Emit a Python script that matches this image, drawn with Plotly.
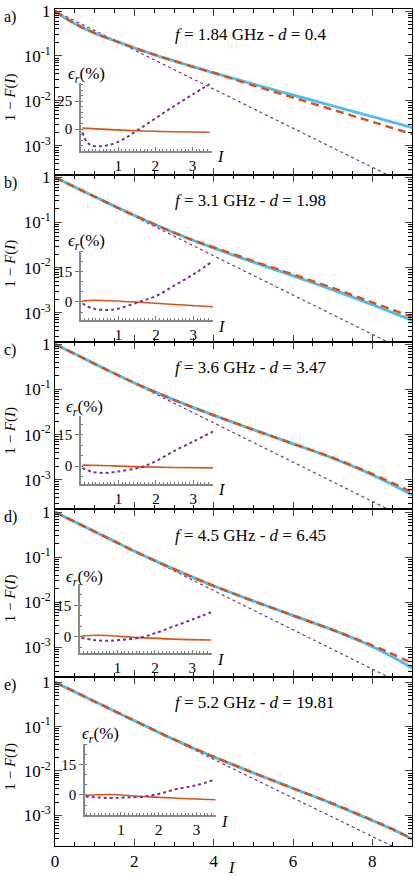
import plotly.graph_objects as go

# panel texts
panel_tags = ["a)", "b)", "c)", "d)", "e)"]
freqs = ["1.84", "3.1", "3.6", "4.5", "5.2"]
dvals = ["0.4", "1.98", "3.47", "6.45", "19.81"]

I_a = [0, 0.25, 0.5, 0.75, 1, 1.5, 2, 2.5, 3, 3.5, 4, 5, 6, 7, 8, 9]
meas_a = [1, 0.708, 0.525, 0.407, 0.324, 0.219, 0.151, 0.107, 0.0776, 0.0569, 0.0422, 0.0237, 0.0135, 0.00776, 0.00447, 0.00257]
model_a = [1, 0.708, 0.525, 0.407, 0.324, 0.219, 0.151, 0.107, 0.0776, 0.0569, 0.0422, 0.0221, 0.0119, 0.00638, 0.00343, 0.00184]

I_b = [0, 0.5, 1, 1.5, 2, 2.5, 3, 3.5, 4, 5, 6, 7, 8, 9]
meas_b = [1, 0.607, 0.3715, 0.229, 0.1429, 0.0912, 0.0596, 0.0398, 0.0272, 0.0132, 0.00661, 0.00324, 0.00151, 0.000676]
model_b = [1, 0.607, 0.3715, 0.229, 0.1429, 0.0912, 0.0596, 0.0398, 0.0282, 0.01396, 0.00708, 0.00355, 0.0017, 0.000813]

I_c = [0, 0.5, 1, 1.5, 2, 2.5, 3, 3.5, 4, 5, 6, 7, 8, 9]
meas_c = [1, 0.607, 0.368, 0.2249, 0.1396, 0.0891, 0.0589, 0.0394, 0.0269, 0.0129, 0.00631, 0.00302, 0.00129, 0.000468]
model_c = [1, 0.607, 0.368, 0.2249, 0.1396, 0.0891, 0.0589, 0.0394, 0.0269, 0.0129, 0.00631, 0.00309, 0.00135, 0.000537]

I_d = [0, 0.5, 1, 1.5, 2, 2.5, 3, 3.5, 4, 5, 6, 7, 8, 8.5, 9]
meas_d = [1, 0.607, 0.368, 0.2239, 0.1365, 0.0851, 0.0543, 0.0351, 0.0232, 0.01072, 0.00513, 0.00245, 0.00105, 0.000631, 0.000355]
model_d = [1, 0.607, 0.368, 0.2239, 0.1365, 0.0851, 0.0543, 0.0351, 0.0232, 0.01072, 0.00513, 0.00245, 0.00112, 0.000724, 0.000457]

I_e = [0, 0.5, 1, 1.5, 2, 2.5, 3, 3.5, 4, 5, 6, 7, 8, 8.5, 9]
meas_e = [1, 0.607, 0.368, 0.2239, 0.1361, 0.0832, 0.0513, 0.0324, 0.0209, 0.00912, 0.00407, 0.00182, 0.000759, 0.00049, 0.000295]
model_e = [1, 0.607, 0.368, 0.2239, 0.1361, 0.0832, 0.0513, 0.0324, 0.0209, 0.00912, 0.00407, 0.00185, 0.00078, 0.000495, 0.000295]

# exponential reference (purple dotted)
I_exp = [0, 4, 9]
exp_ref = [1, 0.0183, 0.000123]

# insets: relative error in %, exponential (purple dashed) and model (red)
ins_I_exp_a = [0.04, 0.16, 0.29, 0.5, 0.81, 1.16, 1.5, 2.0, 2.5, 3.0, 3.46]
ins_exp_a = [-3, -11.7, -14.7, -15.5, -13.8, -8.8, -1.5, 9.5, 20.5, 31, 40.5]
ins_I_mod_a = [0.04, 0.8, 1.5, 2.5, 3.46]
ins_mod_a = [0.9, -0.5, -1.5, -2.4, -2.9]

ins_I_exp_b = [0.04, 0.3, 0.67, 1.0, 1.55, 2.0, 2.53, 3.05, 3.53]
ins_exp_b = [-0.8, -3.2, -4.0, -3.3, 0, 2.9, 8.5, 14.2, 20.3]
ins_I_mod_b = [0.04, 0.4, 1.55, 2.5, 3.53]
ins_mod_b = [0.5, 0.8, -0.2, -1.3, -2.4]

ins_I_exp_c = [0.04, 0.3, 0.63, 1.0, 1.6, 2.0, 2.47, 3.0, 3.53]
ins_exp_c = [-0.8, -2.7, -3.2, -2.5, -0.5, 2.4, 7.1, 11.8, 16.6]
ins_I_mod_c = [0.04, 0.8, 1.6, 2.5, 3.53]
ins_mod_c = [0.5, 0.2, -0.3, -0.6, -0.8]

ins_I_exp_d = [0.04, 0.35, 0.72, 1.1, 1.6, 2.0, 2.5, 3.0, 3.5]
ins_exp_d = [-0.5, -1.6, -2.0, -1.6, -0.5, 1.6, 4.9, 8.2, 11.7]
ins_I_mod_d = [0.04, 0.5, 1.6, 2.5, 3.5]
ins_mod_d = [0.3, 0.65, -0.5, -1.2, -1.6]

ins_I_exp_e = [0.07, 0.7, 1.1, 1.6, 2.0, 2.47, 3.0, 3.44]
ins_exp_e = [-0.8, -1.5, -1.3, -0.8, 0.5, 2.9, 4.8, 7.3]
ins_I_mod_e = [0.07, 0.7, 1.6, 2.5, 3.5]
ins_mod_e = [-0.3, 0.2, -0.8, -1.6, -2.4]

meas = [(I_a, meas_a, model_a), (I_b, meas_b, model_b), (I_c, meas_c, model_c),
        (I_d, meas_d, model_d), (I_e, meas_e, model_e)]
insets = [(ins_I_exp_a, ins_exp_a, ins_I_mod_a, ins_mod_a),
          (ins_I_exp_b, ins_exp_b, ins_I_mod_b, ins_mod_b),
          (ins_I_exp_c, ins_exp_c, ins_I_mod_c, ins_mod_c),
          (ins_I_exp_d, ins_exp_d, ins_I_mod_d, ins_mod_d),
          (ins_I_exp_e, ins_exp_e, ins_I_mod_e, ins_mod_e)]

# layout geometry (pixels of a 415x876 page)
W, H = 415, 876
L, R, T, B = 55, 2, 2, 30
pw, ph = W - L - R, H - T - B
panel_px = [(2, 169.5), (169.5, 337.5), (337.5, 506.5), (506.5, 675.5), (675.5, 846)]
yranges = [[-3.65, 0.045], [-3.64, 0.048], [-3.65, 0.055], [-3.65, 0.06], [-3.69, 0.12]]
inset_px = [(81, 212.3, 77, 145), (81, 213.3, 246.3, 315.7), (81, 213.3, 412.3, 481),
            (80, 212.3, 582.3, 651.7), (85, 216.7, 743.3, 815)]
inset_yr = [[-19.5, 41], [-9, 25], [-8.5, 24], [-8, 25], [-10, 25]]
inset_xr = [[0, 3.52], [0, 3.52], [0, 3.52], [0, 3.52], [0.05, 3.52]]
inset_ytick = [[0, 25], [0, 15], [0, 15], [0, 15], [0, 15]]
elab_px = [(66, 69), (66, 237), (64, 404), (64, 576), (80, 734)]


def px_x(p):
    return (p - L) / pw


def px_y(p):
    return (H - B - p) / ph


BLUE = "#4DBEEE"
RED = "#D95319"
PURPLE = "#7E2F8E"
FONT = "Liberation Serif"

minor_log = [k * 10 ** d for d in range(-4, 1) for k in range(2, 10)]

fig = go.Figure()

for i in range(5):
    n = i + 1
    xa, ya = "x%d" % n, "y%d" % n
    I, mv, md = meas[i]
    fig.add_trace(go.Scatter(x=I_exp, y=exp_ref, mode="lines", xaxis=xa, yaxis=ya,
                             line=dict(color=PURPLE, width=1.2, dash="dot"), showlegend=False))
    fig.add_trace(go.Scatter(x=I, y=mv, mode="lines", xaxis=xa, yaxis=ya, line_shape="spline",
                             line=dict(color=BLUE, width=3), showlegend=False))
    fig.add_trace(go.Scatter(x=I, y=md, mode="lines", xaxis=xa, yaxis=ya, line_shape="spline",
                             line=dict(color=RED, width=2.5, dash="8px,5px"), showlegend=False))

    top, bot = panel_px[i]
    fig.layout["xaxis%d" % n] = dict(
        domain=[0, 1], anchor=ya, range=[0, 9], dtick=2, tick0=0,
        ticks="inside", ticklen=7, mirror="ticks", showline=True, linecolor="black",
        linewidth=1, showgrid=False, zeroline=False, showticklabels=(i == 4),
        tickfont=dict(size=17, family=FONT, color="black"),
        minor=dict(dtick=0.5, ticks="inside", ticklen=4, tickcolor="black", showgrid=False))
    fig.layout["yaxis%d" % n] = dict(
        domain=[px_y(bot), px_y(top)], anchor=xa, type="log", range=yranges[i],
        tickvals=[1, 0.1, 0.01, 0.001],
        ticktext=["1", "10<sup>-1</sup>", "10<sup>-2</sup>", "10<sup>-3</sup>"],
        ticks="inside", ticklen=7, mirror="ticks", showline=True, linecolor="black",
        linewidth=1, showgrid=False, zeroline=False,
        tickfont=dict(size=17, family=FONT, color="black"),
        minor=dict(tickvals=minor_log, ticks="inside", ticklen=4, tickcolor="black", showgrid=False))

    # inset
    m = i + 6
    ixa, iya = "x%d" % m, "y%d" % m
    ie_x, ie_y, im_x, im_y = insets[i]
    fig.add_trace(go.Scatter(x=im_x, y=im_y, mode="lines", xaxis=ixa, yaxis=iya, line_shape="spline",
                             line=dict(color=RED, width=1.6), showlegend=False))
    fig.add_trace(go.Scatter(x=ie_x, y=ie_y, mode="lines", xaxis=ixa, yaxis=iya, line_shape="spline",
                             line=dict(color=PURPLE, width=2, dash="3px,3px"), showlegend=False))
    x0, x1, yt, yb = inset_px[i]
    fig.layout["xaxis%d" % m] = dict(
        domain=[px_x(x0), px_x(x1)], anchor=iya, range=inset_xr[i], tickvals=[1, 2, 3],
        ticks="inside", ticklen=4, tickcolor="#777", showline=True, linecolor="#888",
        linewidth=1.5, showgrid=False, zeroline=False,
        tickfont=dict(size=15, family=FONT, color="black"),
        minor=dict(dtick=0.1, tick0=0, ticks="inside", ticklen=2.5, tickcolor="#777", showgrid=False))
    fig.layout["yaxis%d" % m] = dict(
        domain=[px_y(yb), px_y(yt)], anchor=ixa, range=inset_yr[i], tickvals=inset_ytick[i],
        ticks="outside", ticklen=4, tickcolor="#777", showline=True, linecolor="#888",
        linewidth=1.5, showgrid=False, zeroline=False,
        tickfont=dict(size=15, family=FONT, color="black"),
        minor=dict(dtick=5, tick0=0, ticks="inside", ticklen=2.5, tickcolor="#777", showgrid=False))

    # texts
    fig.add_annotation(x=px_x(173), y=px_y(top + 26), xref="paper", yref="paper",
                       xanchor="left", yanchor="middle", showarrow=False,
                       text="<i>f</i> = %s GHz - <i>d</i> = %s" % (freqs[i], dvals[i]),
                       font=dict(size=17, family=FONT, color="black"))
    fig.add_annotation(x=px_x(2), y=px_y(top + 8), xref="paper", yref="paper",
                       xanchor="left", yanchor="middle", showarrow=False, text=panel_tags[i],
                       font=dict(size=16, family=FONT, color="black"))
    fig.add_annotation(x=px_x(10), y=px_y((top + bot) / 2 + 5), xref="paper", yref="paper",
                       xanchor="center", yanchor="middle", showarrow=False, textangle=-90,
                       text="1 − <i>F</i>(<i>I</i>)",
                       font=dict(size=15, family=FONT, color="black"))
    ex, ey = elab_px[i]
    fig.add_annotation(x=px_x(ex), y=px_y(ey), xref="paper", yref="paper",
                       xanchor="left", yanchor="middle", showarrow=False,
                       text="<i>ϵ</i><sub><i>r</i></sub>(%)",
                       font=dict(size=17, family=FONT, color="black"))
    fig.add_annotation(x=px_x(x1 + 3), y=px_y(yb + 6), xref="paper", yref="paper",
                       xanchor="left", yanchor="middle", showarrow=False, text="<i>I</i>",
                       font=dict(size=16, family=FONT, color="black"))

fig.add_annotation(x=px_x(232), y=px_y(868), xref="paper", yref="paper",
                   xanchor="center", yanchor="middle", showarrow=False, text="<i>I</i>",
                   font=dict(size=16, family=FONT, color="black"))

fig.update_layout(
    width=W, height=H,
    margin=dict(l=L, r=R, t=T, b=B),
    paper_bgcolor="white", plot_bgcolor="rgba(0,0,0,0)",
    font=dict(family=FONT, color="black"),
    showlegend=False,
)

fig.write_html("out.html", config={"displayModeBar": False},
               post_script="document.body.style.margin='0';")
